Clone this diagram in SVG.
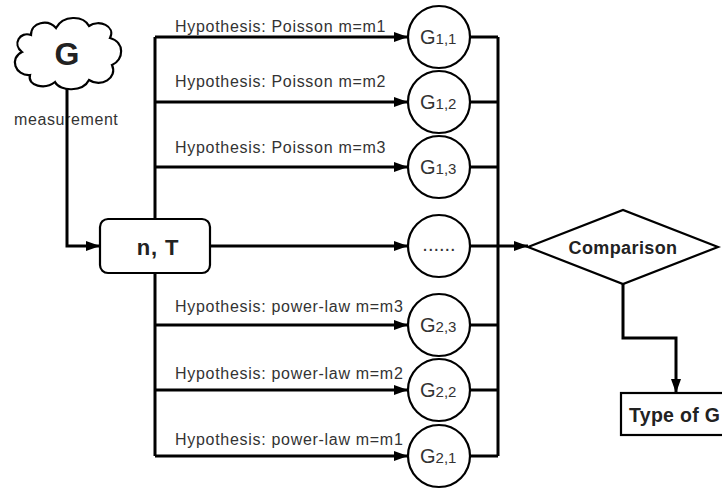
<svg xmlns="http://www.w3.org/2000/svg" width="722" height="489" viewBox="0 0 722 489">
<style>
.ln{fill:none;stroke:#000;stroke-width:3;stroke-linejoin:miter}
.nd{fill:#fff;stroke:#000;stroke-width:2.2}
.lbl{font-family:"Liberation Sans",Arial,sans-serif;font-size:16px;fill:#333;letter-spacing:0.7px}
.g{font-family:"Liberation Sans",Arial,sans-serif;font-size:20px;fill:#333}
.sub{font-size:15px}
.b{font-family:"Liberation Sans",Arial,sans-serif;font-weight:bold;fill:#222}
</style>
<defs>
<marker id="ah" viewBox="0 0 14 10" refX="14" refY="5" markerWidth="14" markerHeight="10" markerUnits="userSpaceOnUse" orient="auto">
<path d="M0,0 L14,5 L0,10 Z" fill="#000"/>
</marker>
</defs>
<g id="labels">
<text class="lbl" x="14" y="125" style="letter-spacing:0.6px">measurement</text>
<text class="lbl" x="175" y="32">Hypothesis: Poisson m=m1</text>
<text class="lbl" x="175" y="87">Hypothesis: Poisson m=m2</text>
<text class="lbl" x="175" y="153">Hypothesis: Poisson m=m3</text>
<text class="lbl" x="175" y="312">Hypothesis: power-law m=m3</text>
<text class="lbl" x="175" y="379">Hypothesis: power-law m=m2</text>
<text class="lbl" x="175" y="445">Hypothesis: power-law m=m1</text>
</g>
<g id="connectors">
<path class="ln" d="M67,87 V246 H100" marker-end="url(#ah)"/>
<path class="ln" d="M155,37 V456"/>
<path class="ln" d="M155,37 H408" marker-end="url(#ah)"/>
<path class="ln" d="M155,102 H408" marker-end="url(#ah)"/>
<path class="ln" d="M155,167 H408" marker-end="url(#ah)"/>
<path class="ln" d="M155,325 H408" marker-end="url(#ah)"/>
<path class="ln" d="M155,390 H408" marker-end="url(#ah)"/>
<path class="ln" d="M155,456 H408" marker-end="url(#ah)"/>
<path class="ln" d="M210,246 H408" marker-end="url(#ah)"/>
<path class="ln" d="M498,37 V456"/>
<path class="ln" d="M470,37 H498 M470,102 H498 M470,167 H498 M470,325 H498 M470,390 H498 M470,456 H498"/>
<path class="ln" d="M470,246 H528" marker-end="url(#ah)"/>
<path class="ln" d="M623,284 V338 H676 V393" marker-end="url(#ah)"/>
</g>
<g id="cloud">
<path class="nd" d="M30,75 C15,76 9,58 22,52 C12,44 20,31 31,35 C31,22 48,19 56,28 C63,15 83,15 89,26 C99,19 116,26 110,38 C125,42 124,60 112,65 C118,78 101,88 89,80 C83,92 60,92 55,82 C45,90 27,86 30,75 Z"/>
<text class="b" x="67" y="65" text-anchor="middle" font-size="32">G</text>
</g>
<g id="nT">
<rect class="nd" x="100" y="219" width="110" height="54" rx="8"/>
<text class="b" x="158" y="255" text-anchor="middle" font-size="22" style="letter-spacing:0.8px">n, T</text>
</g>
<g id="G11"><circle class="nd" cx="439" cy="37" r="31"/><text class="g" x="420" y="44">G<tspan class="sub">1,1</tspan></text></g>
<g id="G12"><circle class="nd" cx="439" cy="102" r="31"/><text class="g" x="420" y="109">G<tspan class="sub">1,2</tspan></text></g>
<g id="G13"><circle class="nd" cx="439" cy="167" r="31"/><text class="g" x="420" y="174">G<tspan class="sub">1,3</tspan></text></g>
<g id="dots"><circle class="nd" cx="439" cy="246" r="31"/><text class="g" x="439" y="251" text-anchor="middle" font-size="12">......</text></g>
<g id="G23"><circle class="nd" cx="439" cy="325" r="31"/><text class="g" x="420" y="332">G<tspan class="sub">2,3</tspan></text></g>
<g id="G22"><circle class="nd" cx="439" cy="390" r="31"/><text class="g" x="420" y="397">G<tspan class="sub">2,2</tspan></text></g>
<g id="G21"><circle class="nd" cx="439" cy="456" r="31"/><text class="g" x="420" y="463">G<tspan class="sub">2,1</tspan></text></g>
<g id="comparison">
<polygon class="nd" points="528,247 623,210 718,247 623,284"/>
<text class="b" x="623" y="254" text-anchor="middle" font-size="18" style="letter-spacing:0.4px">Comparison</text>
</g>
<g id="typeG">
<rect class="nd" x="621" y="393" width="140" height="42"/>
<text class="b" x="629" y="422" font-size="19.5" style="letter-spacing:0.3px">Type of G</text>
</g>
</svg>
